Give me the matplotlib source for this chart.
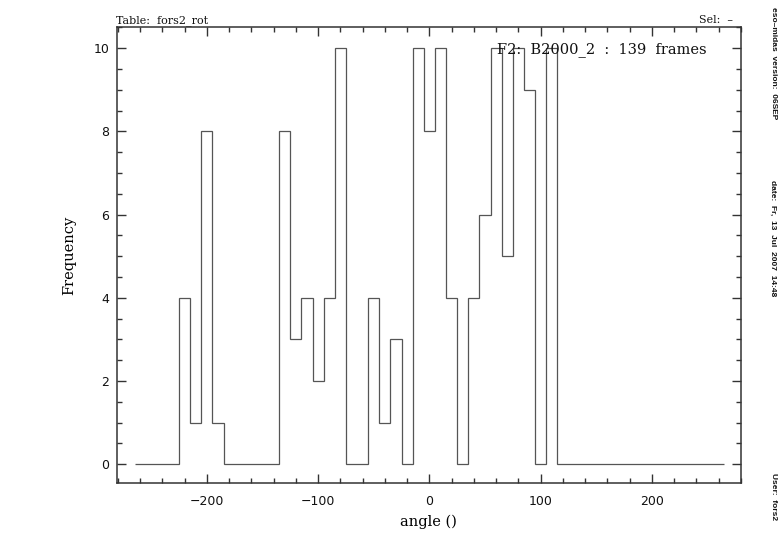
import numpy as np
import matplotlib
matplotlib.use("Agg")
import matplotlib.pyplot as plt
from matplotlib.ticker import MultipleLocator

# ---- data ----
bin_width = 10
bin_centers = list(range(-260, 261, 10))
counts = [0, 0, 0, 0,            # -260 .. -230
          4, 1, 8, 1,            # -220 .. -190
          0, 0, 0, 0, 0,         # -180 .. -140
          8, 3, 4, 2, 4, 10,     # -130 .. -80
          0, 0,                  # -70, -60
          4, 1, 3, 0,            # -50 .. -20
          10, 8, 10, 4, 0,       # -10 .. 30
          4, 6, 10, 5, 10, 9,    # 40 .. 90
          0, 10,                 # 100, 110
          0, 0, 0, 0, 0, 0, 0, 0, 0, 0, 0, 0, 0, 0, 0]  # 120 .. 260
x_ticks = [-200, -100, 0, 100, 200]
y_ticks = [0, 2, 4, 6, 8, 10]
title_text = "F2:  B2000_2  :  139  frames"
xlabel = "angle ()"
ylabel = "Frequency"
header_left = "Table:  fors2_rot"
header_right = "Sel:  \u2013"
side_texts = ["eso\u2013midas  version:  06SEP",
              "date:  Fr,  13  Jul  2007  14:48",
              "User:  fors2"]

W, H = 782, 542
fig = plt.figure(figsize=(W / 100, H / 100), dpi=100)
L, R, B, T = 116.7, 741.0, 483.3, 27.3
ax = fig.add_axes([L / W, 1 - B / H, (R - L) / W, (B - T) / H])

edges = np.array(bin_centers, dtype=float) - bin_width / 2
edges = np.append(edges, bin_centers[-1] + bin_width / 2)
ax.stairs(counts, edges, baseline=None, color="#555555", lw=0.9)

ax.set_xlim(-281, 280)
ax.set_ylim(-0.46, 10.5)
ax.set_xticks(x_ticks)
ax.set_yticks(y_ticks)
ax.xaxis.set_minor_locator(MultipleLocator(20))
ax.yaxis.set_minor_locator(MultipleLocator(0.5))
ax.tick_params(which="both", direction="in", top=True, right=True,
               color="#333333", width=1.0)
ax.tick_params(which="major", length=6.5)
ax.tick_params(which="minor", length=3.6)
ax.tick_params(axis="x", which="major", pad=8.5, labelsize=9)
ax.tick_params(axis="y", which="major", pad=5.5, labelsize=9)
for lab in ax.get_xticklabels() + ax.get_yticklabels():
    lab.set_fontfamily("DejaVu Sans")
    lab.set_color("#111111")
for sp in ax.spines.values():
    sp.set_color("#333333")
    sp.set_linewidth(1.1)

ax.set_xlabel(xlabel, fontfamily="DejaVu Serif", fontsize=10.5, va="center")
ax.xaxis.set_label_coords(0.5, -0.085)
ax.set_ylabel(ylabel, fontfamily="DejaVu Serif", fontsize=10.5, va="center")
ax.yaxis.set_label_coords(-0.0764, 0.5)

ax.text((497 - L) / (R - L), (B - 53) / (B - T), title_text,
        transform=ax.transAxes, ha="left", va="baseline",
        fontfamily="DejaVu Serif", fontsize=10.5, color="#111111")

fig.text(116 / W, 1 - 23 / H, header_left, ha="left", va="baseline",
         fontfamily="DejaVu Serif", fontsize=8, color="#111111")
fig.text(733 / W, 1 - 23 / H, header_right, ha="right", va="baseline",
         fontfamily="DejaVu Serif", fontsize=8, color="#111111")

for txt, ytop in zip(side_texts, [7, 180, 473]):
    fig.text(773 / W, 1 - ytop / H, txt, rotation=-90, rotation_mode="anchor",
             ha="left", va="center", fontfamily="Liberation Sans",
             fontweight="bold", fontsize=6, color="#111111")

fig.savefig("out.png", dpi=100)
